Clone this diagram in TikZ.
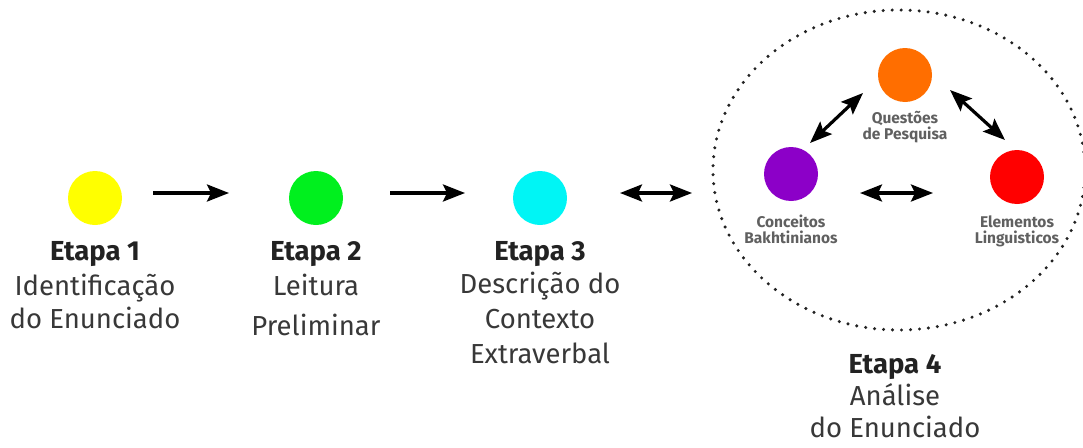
\documentclass[tikz,border=0pt]{standalone}
\usepackage{fontspec}
\setmainfont{Fira Sans}
\usetikzlibrary{arrows.meta,shapes.geometric}
\definecolor{cyel}{HTML}{FFFF00}
\definecolor{cgrn}{HTML}{00F01E}
\definecolor{ccya}{HTML}{00F5F5}
\definecolor{corg}{HTML}{FF6E00}
\definecolor{cpur}{HTML}{8C00C8}
\definecolor{cred}{HTML}{FF0000}
\definecolor{txt}{HTML}{222222}
\definecolor{txtl}{HTML}{383838}
\definecolor{txts}{HTML}{606060}
\begin{document}
\begin{tikzpicture}[x=1pt,y=-1pt,
  dot/.style={circle,minimum size=54pt,inner sep=0pt},
  head/.style={font=\fontsize{27.5}{30}\selectfont\bfseries,text=txt,inner sep=0pt,anchor=base},
  desc/.style={font=\fontsize{27.5}{34}\selectfont,text=txtl,inner sep=0pt,anchor=base},
  small/.style={font=\fontsize{15.5}{18}\selectfont\bfseries,text=txts,inner sep=0pt,anchor=base},
  arr/.style={line width=3.2pt,-{Stealth[length=22pt,width=17pt,inset=4pt]}},
  darr/.style={line width=3.2pt,{Stealth[length=22pt,width=17pt,inset=4pt]}-{Stealth[length=22pt,width=17pt,inset=4pt]}}]
\useasboundingbox (0,0) rectangle (1083,447);
% main circles
\node[dot,fill=cyel] (c1) at (95,198) {};
\node[dot,fill=cgrn] (c2) at (316,198) {};
\node[dot,fill=ccya] (c3) at (540,198) {};
% labels
\node[head] (h1) at (95,260) {Etapa 1};
\node[desc] (d1a) at (95,295) {Identificação};
\node[desc] (d1b) at (95,328) {do Enunciado};
\node[head] (h2) at (316,260) {Etapa 2};
\node[desc] (d2a) at (316,295) {Leitura};
\node[desc] (d2b) at (316,335) {Preliminar};
\node[head] (h3) at (540,260) {Etapa 3};
\node[desc] (d3a) at (540,293) {Descrição do};
\node[desc] (d3b) at (540,328) {Contexto};
\node[desc] (d3c) at (540,363) {Extraverbal};
\node[head] (h4) at (895,373) {Etapa 4};
\node[desc] (d4a) at (895,405) {Análise};
\node[desc] (d4b) at (895,437) {do Enunciado};
% ellipse
\node[ellipse,minimum width=372pt,minimum height=320pt,inner sep=0pt,draw=txt,line width=3.4pt,line cap=round,dash pattern=on 0pt off 9pt] (E) at (899,170) {};
% inner circles
\node[dot,fill=corg] (q) at (905,75) {};
\node[dot,fill=cpur] (b) at (791,174) {};
\node[dot,fill=cred] (l) at (1017,177) {};
\node[small] (tq1) at (905,123) {Questões};
\node[small] (tq2) at (905,139) {de Pesquisa};
\node[small] (tb1) at (791,227) {Conceitos};
\node[small] (tb2) at (791,243) {Bakhtinianos};
\node[small] (tl1) at (1017,227) {Elementos};
\node[small] (tl2) at (1017,243) {Linguisticos};
% arrows
\coordinate (a1s) at (153,193); \coordinate (a1e) at (229,193);
\coordinate (a2s) at (390,193); \coordinate (a2e) at (465,193);
\coordinate (a3s) at (620,193); \coordinate (a3e) at (692,193);
\draw[arr] (a1s) -- (a1e);
\draw[arr] (a2s) -- (a2e);
\draw[darr] (a3s) -- (a3e);
\coordinate (bq1) at (810,143); \coordinate (bq2) at (863,93);
\coordinate (ql1) at (950,90); \coordinate (ql2) at (1005,140);
\coordinate (bl1) at (860,193); \coordinate (bl2) at (933,193);
\draw[darr] (bq1) -- (bq2);
\draw[darr] (ql1) -- (ql2);
\draw[darr] (bl1) -- (bl2);
\end{tikzpicture}
\end{document}
